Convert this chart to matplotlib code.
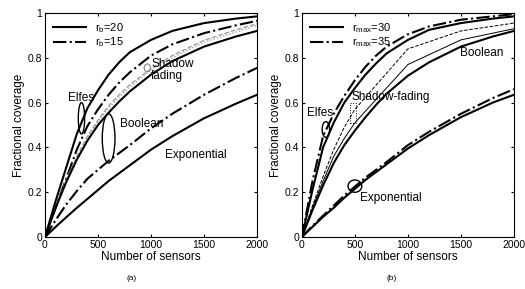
import matplotlib
matplotlib.use("Agg")
import matplotlib.pyplot as plt
from matplotlib.patches import Ellipse, Rectangle

plt.rcParams["font.family"] = ["Liberation Sans", "DejaVu Sans"]
plt.rcParams["mathtext.fontset"] = "custom"
plt.rcParams["mathtext.rm"] = "Liberation Sans"
plt.rcParams["mathtext.it"] = "Liberation Sans"

# number of sensors
sensors = [0, 100, 200, 300, 400, 500, 600, 700, 800, 1000, 1200, 1500, 1800, 2000]

# (a) sensing radius r_b
elfes_rb20 = [0, 0.16, 0.31, 0.46, 0.575, 0.655, 0.725, 0.78, 0.825, 0.88, 0.92, 0.955, 0.975, 0.985]
elfes_rb15 = [0, 0.13, 0.26, 0.39, 0.495, 0.57, 0.635, 0.69, 0.735, 0.81, 0.86, 0.91, 0.945, 0.965]
shadow_rb20 = [0, 0.13, 0.25, 0.355, 0.445, 0.515, 0.575, 0.625, 0.67, 0.745, 0.80, 0.87, 0.915, 0.945]
shadow_rb15 = [0, 0.135, 0.255, 0.36, 0.45, 0.522, 0.585, 0.635, 0.68, 0.752, 0.81, 0.878, 0.925, 0.952]
boolean_rb20 = [0, 0.13, 0.245, 0.345, 0.43, 0.50, 0.555, 0.605, 0.65, 0.725, 0.785, 0.85, 0.895, 0.92]
boolean_rb15 = [0, 0.075, 0.145, 0.205, 0.26, 0.30, 0.34, 0.375, 0.41, 0.485, 0.55, 0.635, 0.71, 0.755]
expo_a = [0, 0.045, 0.088, 0.13, 0.17, 0.21, 0.25, 0.285, 0.32, 0.39, 0.45, 0.53, 0.595, 0.635]

# (b) maximum range r_max
elfes_rm35 = [0, 0.25, 0.45, 0.55, 0.63, 0.70, 0.76, 0.81, 0.85, 0.905, 0.94, 0.97, 0.985, 0.995]
elfes_rm30 = [0, 0.21, 0.40, 0.51, 0.60, 0.665, 0.725, 0.775, 0.82, 0.88, 0.925, 0.955, 0.975, 0.985]
boolean_b = [0, 0.12, 0.23, 0.33, 0.41, 0.475, 0.535, 0.59, 0.64, 0.72, 0.78, 0.85, 0.895, 0.92]
expo_rm35 = [0, 0.05, 0.095, 0.14, 0.185, 0.225, 0.265, 0.30, 0.335, 0.41, 0.47, 0.55, 0.62, 0.66]
expo_rm30 = [0, 0.045, 0.09, 0.13, 0.175, 0.215, 0.255, 0.29, 0.325, 0.395, 0.455, 0.535, 0.60, 0.635]
shadow_sensors = [0, 100, 200, 300, 400, 500, 1000, 1500, 2000]
shadow_rm35 = [0, 0.14, 0.27, 0.39, 0.49, 0.57, 0.84, 0.92, 0.955]
shadow_rm30 = [0, 0.13, 0.25, 0.36, 0.44, 0.51, 0.77, 0.88, 0.93]

xticks = [0, 500, 1000, 1500, 2000]
yticks = [0, 0.2, 0.4, 0.6, 0.8, 1]
ytick_labels = ["0", "0.2", "0.4", "0.6", "0.8", "1"]

fig = plt.figure(figsize=(5.25, 2.89), dpi=100)
ax1 = fig.add_axes([0.0857, 0.180, 0.404, 0.775])
ax2 = fig.add_axes([0.575, 0.180, 0.404, 0.775])

lw = 1.5
fs = 8.5
for ax in (ax1, ax2):
    ax.set_xlim(0, 2000)
    ax.set_ylim(0, 1)
    ax.set_xticks(xticks)
    ax.set_xticklabels([str(t) for t in xticks])
    ax.set_yticks(yticks)
    ax.set_yticklabels(ytick_labels)
    ax.tick_params(direction="in", top=True, right=True, labelsize=7.5, length=2.5, pad=2)
    ax.set_xlabel("Number of sensors", fontsize=fs, labelpad=1)
    ax.set_ylabel("Fractional coverage", fontsize=fs, labelpad=2)

# ---- (a)
l1, = ax1.plot(sensors, elfes_rb20, "k-", lw=lw)
l2, = ax1.plot(sensors, elfes_rb15, "k-.", lw=lw)
ax1.plot(sensors, shadow_rb20, color="0.55", lw=0.9, ls=":")
ax1.plot(sensors, shadow_rb15, color="0.6", lw=0.9, ls="--")
ax1.plot(sensors, boolean_rb20, "k-", lw=lw)
ax1.plot(sensors, boolean_rb15, "k-.", lw=lw)
ax1.plot(sensors, expo_a, "k-", lw=lw)
ax1.legend([l1, l2], [r"r$_\mathrm{b}$=20", r"r$_\mathrm{b}$=15"], loc="upper left",
           frameon=False, fontsize=8, handlelength=3, borderaxespad=0.3, labelspacing=0.1)

ax1.add_patch(Ellipse((344, 0.53), 60, 0.14, fill=False, lw=1))
ax1.add_patch(Ellipse((600, 0.44), 120, 0.22, fill=False, lw=1))
ax1.add_patch(Ellipse((965, 0.755), 60, 0.035, fill=False, lw=0.8, color="0.5"))
ax1.text(344, 0.62, "Elfes", fontsize=fs, ha="center", va="center")
ax1.text(915, 0.505, "Boolean", fontsize=fs, ha="center", va="center")
ax1.text(1000, 0.745, "Shadow\nfading", fontsize=fs, ha="left", va="center", linespacing=1.0)
ax1.text(1425, 0.365, "Exponential", fontsize=fs, ha="center", va="center")

# ---- (b)
m1, = ax2.plot(sensors, elfes_rm30, "k-", lw=lw)
m2, = ax2.plot(sensors, elfes_rm35, "k-.", lw=lw)
ax2.plot(shadow_sensors, shadow_rm35, "k--", lw=0.7)
ax2.plot(shadow_sensors, shadow_rm30, "k-", lw=0.7)
ax2.plot(sensors, boolean_b, "k-", lw=lw)
ax2.plot(sensors, expo_rm35, "k-.", lw=lw)
ax2.plot(sensors, expo_rm30, "k-", lw=lw)
ax2.legend([m1, m2], [r"r$_\mathrm{max}$=30", r"r$_\mathrm{max}$=35"], loc="upper left",
           frameon=False, fontsize=8, handlelength=3, borderaxespad=0.3, labelspacing=0.1)

ax2.add_patch(Ellipse((226, 0.48), 70, 0.07, fill=False, lw=1))
ax2.add_patch(Rectangle((455, 0.51), 60, 0.09, fill=False, lw=0.7, ls=":"))
ax2.add_patch(Ellipse((500, 0.227), 130, 0.055, fill=False, lw=1))
ax2.text(170, 0.555, "Elfes", fontsize=fs, ha="center", va="center")
ax2.text(470, 0.625, "Shadow-fading", fontsize=fs, ha="left", va="center")
ax2.text(1700, 0.82, "Boolean", fontsize=fs, ha="center", va="center")
ax2.text(840, 0.174, "Exponential", fontsize=fs, ha="center", va="center")

fig.text(0.2514, 0.038, "(a)", fontsize=6, ha="center", va="center")
fig.text(0.7467, 0.038, "(b)", fontsize=6, ha="center", va="center")

fig.savefig("out.png", dpi=100)
